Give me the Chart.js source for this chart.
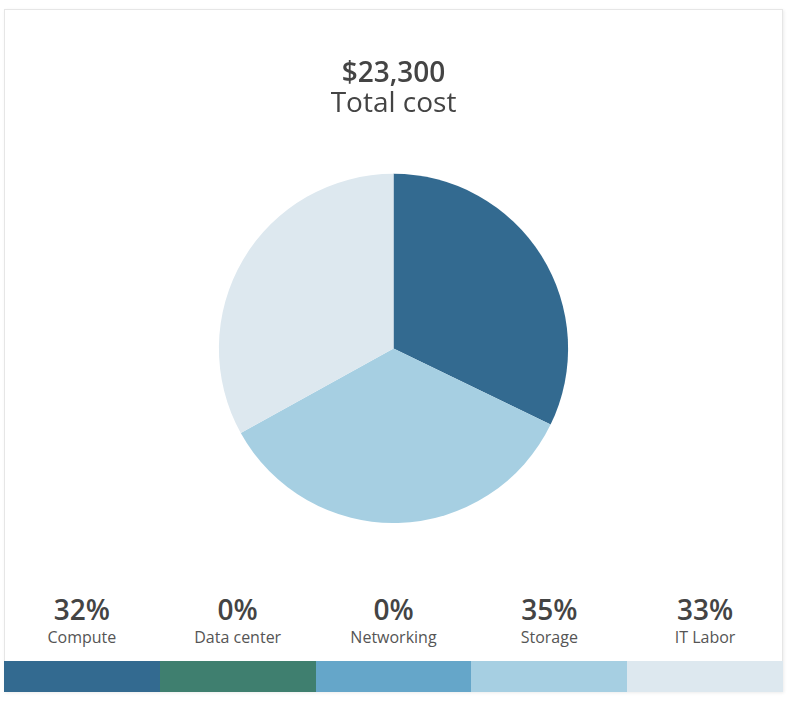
<!DOCTYPE html>
<html>
<head>
<meta charset="utf-8">
<script src="https://cdn.jsdelivr.net/npm/chart.js@4"></script>
<style>
    body { margin: 0; background: #fff; font-family: "Open Sans", "Noto Sans", sans-serif; }
    .card {
        position: absolute; left: 4px; top: 9px; width: 779px; height: 683px;
        box-sizing: border-box; border: 1px solid #e6e6e6;
        box-shadow: 1px 1px 3px rgba(0,0,0,.08); background: #fff;
    }
    .grafico { position: absolute; left: 0; top: 0; width: 777px; height: 513px; }
    .legenda { position: absolute; left: -1px; right: -1px; bottom: -1px; display: flex; }
    .item { flex: 1; text-align: center; }
    .pct { font-size: 28px; font-weight: 600; color: #444; line-height: 34px; }
    .nome { font-size: 16px; color: #555; line-height: 22px; margin-bottom: 13px; }
    .barra { height: 31px; }
</style>
</head>
<body>
<div class="card">
    <div class="grafico"><canvas id="custoChart"></canvas></div>
    <div class="legenda" id="legenda"></div>
</div>
<script>
const categorias = ["Compute", "Data center", "Networking", "Storage", "IT Labor"];
const custos = [7500, 0, 0, 8100, 7700];
const cores = ["#336a90", "#3f7f6f", "#65a6c9", "#a6cfe2", "#dde8ef"];

let total = 0;
for (let i = 0; i < custos.length; i++) total += custos[i];

const legenda = document.getElementById("legenda");
for (let i = 0; i < categorias.length; i++) {
    const pct = Math.round(custos[i] / total * 100);
    const item = document.createElement("div");
    item.className = "item";
    item.innerHTML = `<div class="pct">${pct}%</div><div class="nome">${categorias[i]}</div><div class="barra" style="background:${cores[i]}"></div>`;
    legenda.appendChild(item);
}

new Chart(document.getElementById("custoChart"), {
    type: "pie",
    data: {
        labels: categorias,
        datasets: [{
            data: custos,
            backgroundColor: cores,
            borderWidth: 0
        }]
    },
    options: {
        responsive: true,
        maintainAspectRatio: false,
        animation: false,
        layout: { padding: 0 },
        plugins: {
            legend: { display: false },
            tooltip: { enabled: false },
            title: {
                display: true,
                text: "$" + total.toLocaleString("en-US"),
                color: "#444",
                font: { family: "'Open Sans', sans-serif", size: 28, weight: "600", lineHeight: 1.1 },
                padding: { top: 49, bottom: 0 }
            },
            subtitle: {
                display: true,
                text: "Total cost",
                color: "#444",
                font: { family: "'Open Sans', sans-serif", size: 28, weight: "normal", lineHeight: 1.0 },
                padding: { top: 0, bottom: 56 }
            }
        }
    }
});
</script>
</body>
</html>
